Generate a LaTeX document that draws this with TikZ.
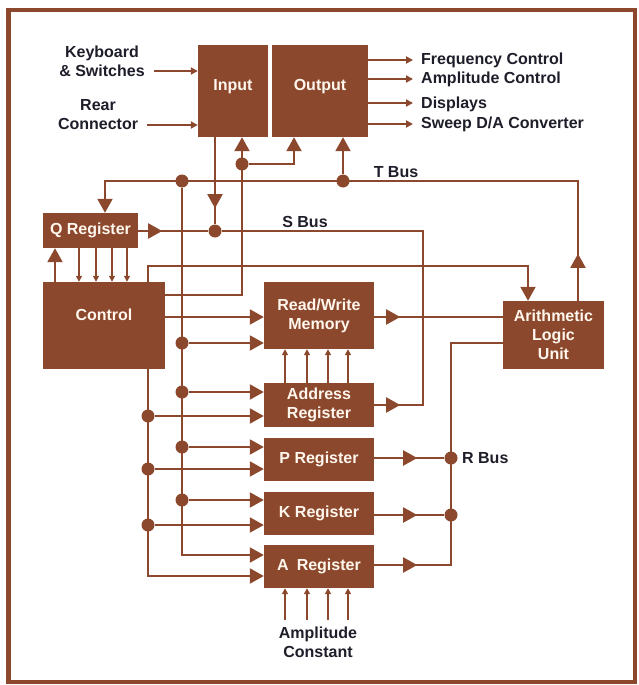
\documentclass[tikz,border=0pt]{standalone}
\usepackage{fontspec}
\setmainfont{Liberation Sans}
\usetikzlibrary{arrows.meta,decorations.markings}
\definecolor{brn}{RGB}{140,72,44}
\definecolor{ink}{RGB}{30,30,42}
\definecolor{boxtxt}{RGB}{255,247,238}
\begin{document}
\begin{tikzpicture}[x=1pt,y=-1pt,
  font=\fontsize{16}{19}\selectfont\bfseries,
  box/.style={fill=brn, draw=none, text=boxtxt, align=center, inner sep=0pt},
  lbl/.style={text=ink, align=center, inner sep=0pt},
  ln/.style={draw=brn, line width=2pt},
  big/.style={ln, -{Triangle[length=14pt,width=15pt]}},
  sml/.style={ln, -{Triangle[length=7pt,width=7pt]}},
  tiny/.style={ln, -{Triangle[length=6pt,width=6pt]}},
  midarr/.style={ln, postaction={decorate}, decoration={markings, mark=at position #1 with {\arrow{Triangle[length=14pt,width=15pt]}}}},
  dot/.style={circle, fill=brn, minimum size=13pt, inner sep=0pt},
]
\useasboundingbox (0,0) rectangle (638,685);
\fill[white] (0,0) rectangle (638,685);
\draw[brn, line width=4pt] (9,10.5) rectangle (635,682);
\fill[brn] (6,8) rectangle (11,684);

% boxes
\node[box, minimum width=70pt, minimum height=92pt] (inp) at (233,91) {\raisebox{12pt}{Input}};
\node[box, minimum width=96pt, minimum height=92pt] (outp) at (320,91) {\raisebox{12pt}{Output}};
\node[box, minimum width=95pt, minimum height=35pt] (qreg) at (90.5,230.5) {Q Register};
\node[box, minimum width=122pt, minimum height=87pt] (ctrl) at (104,325.5) {\raisebox{22pt}{Control}};
\node[box, minimum width=110pt, minimum height=67pt] (mem) at (319,315.5) {Read/Write\\Memory};
\node[box, minimum width=110pt, minimum height=44pt] (addr) at (319,405) {Address\\Register};
\node[box, minimum width=110pt, minimum height=43pt] (preg) at (319,459.5) {P Register};
\node[box, minimum width=110pt, minimum height=43pt] (kreg) at (319,513.5) {K Register};
\node[box, minimum width=110pt, minimum height=43pt] (areg) at (319,566.5) {A\enspace Register};
\node[box, minimum width=101pt, minimum height=68pt] (alu) at (553.5,335) {Arithmetic\\Logic\\Unit};

% labels
\node[lbl] (kb) at (102,61) {Keyboard\\\& Switches};
\node[lbl] (rc) at (98,115) {Rear\\Connector};
\node[lbl, anchor=base west] (fc) at (421,64) {Frequency Control};
\node[lbl, anchor=base west] (ac) at (421,84) {Amplitude Control};
\node[lbl, anchor=base west] (dsp) at (421,108) {Displays};
\node[lbl, anchor=base west] (sw) at (421,128) {Sweep D/A Converter};
\node[lbl, anchor=base] (tbus) at (396,177) {T Bus};
\node[lbl, anchor=base] (sbus) at (305,227) {S Bus};
\node[lbl, anchor=base west] (rbus) at (462,463) {R Bus};
\node[lbl] (amp) at (318,642) {Amplitude\\Constant};

% coordinates
\coordinate (tL) at (105,181);
\coordinate (tR) at (578,181);
\coordinate (sR) at (423,231);
\coordinate (sRb) at (423,405);
\coordinate (cT) at (148,266);
\coordinate (cTR) at (528,266);
\coordinate (cE) at (242,295);
\coordinate (c1r) at (294,164);
\coordinate (t1b) at (182,555);
\coordinate (e1c) at (148,576);
\coordinate (r0) at (451,343);
\coordinate (r3) at (451,565);

% dots
\node[dot] (t1) at (182,181) {};
\node[dot] (t2) at (343,181) {};
\node[dot] (c1) at (242,164) {};
\node[dot] (s1) at (215,231) {};
\node[dot] (d1) at (182,343) {};
\node[dot] (d2) at (182,392) {};
\node[dot] (d3) at (182,447) {};
\node[dot] (d4) at (182,500) {};
\node[dot] (e1) at (148,416) {};
\node[dot] (e2) at (148,469) {};
\node[dot] (e3) at (148,525) {};
\node[dot] (r1) at (451,458) {};
\node[dot] (r2) at (451,515) {};

% inputs / outputs
\draw[sml] ([xshift=9pt]kb.east |- 0,71) -- (inp.west |- 0,71);
\draw[sml] ([xshift=9pt]rc.east |- 0,125) -- (inp.west |- 0,125);
\draw[sml] (outp.east |- 0,60) -- ([xshift=-8pt]fc.west |- 0,60);
\draw[sml] (outp.east |- 0,79) -- ([xshift=-8pt]ac.west |- 0,79);
\draw[sml] (outp.east |- 0,103) -- ([xshift=-8pt]dsp.west |- 0,103);
\draw[sml] (outp.east |- 0,124) -- ([xshift=-8pt]sw.west |- 0,124);

% T bus
\draw[midarr=47pt, -{Triangle[length=14pt,width=15pt]}] (alu.north -| tR) -- (tR) -- (tL) -- (qreg.north -| tL);
\draw[big] (t2) -- (outp.south -| t2);
\draw[big] (t1) -- (t1b) -- (areg.west |- t1b);
\draw[big] (d1) -- (mem.west |- d1);
\draw[big] (d2) -- (addr.west |- d2);
\draw[big] (d3) -- (preg.west |- d3);
\draw[big] (d4) -- (kreg.west |- d4);

% control to input/output
\draw[big] (ctrl.east |- cE) -- (cE) -- (inp.south -| cE);
\draw[big] (c1) -- (c1r) -- (outp.south -| c1r);

% S bus
\draw[midarr=71pt] (inp.south -| s1) -- (s1);
\draw[midarr=24pt] (qreg.east |- s1) -- (s1);
\draw[midarr=26pt] (addr.east |- sRb) -- (sRb) -- (sR) -- (s1);

% control lines
\draw[big] (ctrl.north -| cT) -- (cT) -- (cTR) -- (alu.north -| cTR);
\draw[big] (ctrl.east |- 0,317) -- (mem.west |- 0,317);
\draw[big] (ctrl.south -| e1c) -- (e1c) -- (areg.west |- e1c);
\draw[big] (e1) -- (addr.west |- e1);
\draw[big] (e2) -- (preg.west |- e2);
\draw[big] (e3) -- (kreg.west |- e3);

% memory to ALU, R bus
\draw[midarr=26pt] (mem.east |- 0,317) -- (alu.west |- 0,317);
\draw[midarr=43pt] (areg.east |- r3) -- (r3) -- (r0) -- (alu.west |- r0);
\draw[midarr=43pt] (preg.east |- r1) -- (r1);
\draw[midarr=43pt] (kreg.east |- r2) -- (r2);

% Q register and control
\draw[big] (ctrl.north -| 55,0) -- (qreg.south -| 55,0);
\foreach \x in {79,96,112,127} \draw[tiny] (qreg.south -| \x,0) -- (ctrl.north -| \x,0);
\foreach \x in {285,307,328,348} \draw[tiny] (addr.north -| \x,0) -- (mem.south -| \x,0);
\foreach \x in {285,307,328,348} \draw[tiny] ([yshift=6pt]amp.north -| \x,0) -- (areg.south -| \x,0);
\end{tikzpicture}
\end{document}
